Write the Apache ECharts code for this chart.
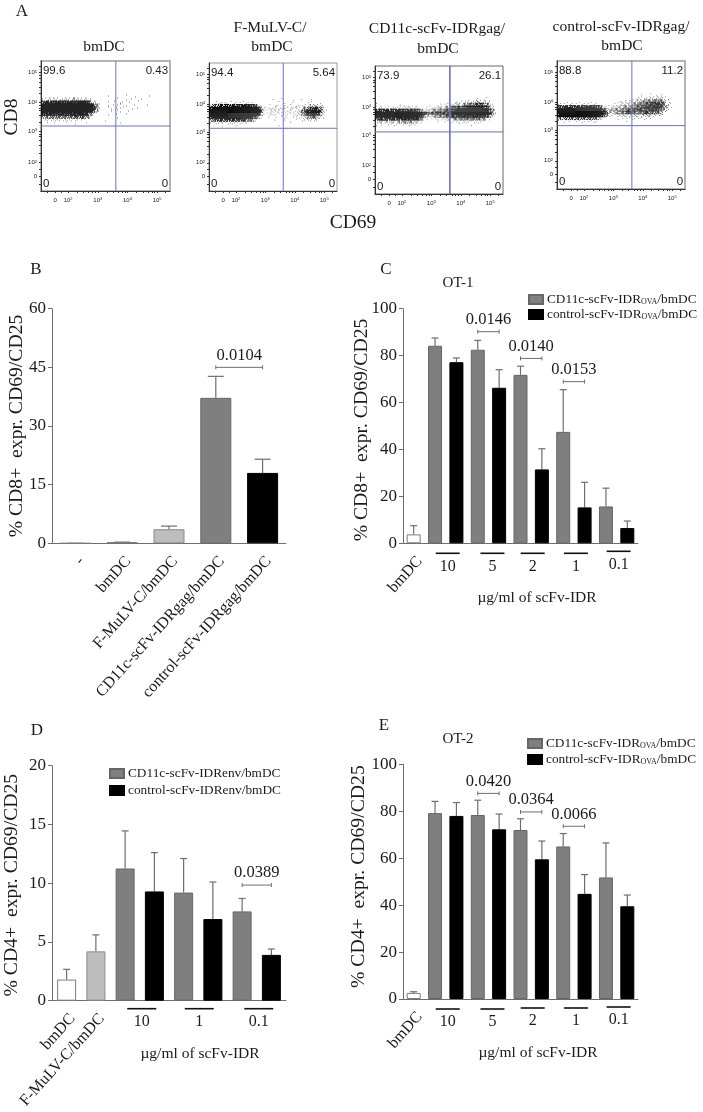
<!DOCTYPE html>
<html>
<head>
<meta charset="utf-8" />
<title>CD69/CD25 expression</title>
<script src="https://cdn.jsdelivr.net/npm/echarts@6/dist/echarts.min.js"></script>
<style>
  html, body { margin: 0; padding: 0; background: #fff; }
  #chart { width: 703px; height: 1112px; }
</style>
</head>
<body>
<div id="chart"></div>
<script>
// panel A: density, one digit (0-9) per cell, top row first
const flowBmdc = [
  '0000000000000000000000100000100100001000000',
  '1121221222332221100000000100101001000000000',
  '6778888888889997521000101011010010000000000',
  '9999999999999999974100101110100100010000000',
  '9999999999999999985200110111001010000000000',
  '9999999999999999963100010110010000000000000',
  '8888888888889987420000100100100000000000000',
  '4445455555565654200000000100000000000000000',
  '1121222121211110000001000000000000000000000',
  '0010100010010001000000000010000000000000000'
];
const flowMulv = [
  '0000000000000000000001001000100100100000000',
  '0011110111111110000000010100100001100100000',
  '4556676677788876310010110101011122332110000',
  '8999999999999999852021212212121345676420000',
  '9999999999999999962122221212123578998631000',
  '9999999999999999941122112211122468997420000',
  '8999999999999987410010101110111234563210000',
  '5566667666675542000000100100010112221000000',
  '1111211211111000000000000001000000000000000',
  '0000100001000000000000010000000000000000000'
];
const flowCd11c = [
  '0000000000000000000000000000000000100100000',
  '0000000000000000000000000001011212322110000',
  '1000000010000000000000111123334555665431000',
  '2211112122232210011123334566778999998752000',
  '7777777888888874223445566789999999999974100',
  '9999999999999999765667667899999999999985100',
  '9999999999999997532344456677888888888642000',
  '6777777778888875210112223344445555544210000',
  '3333333344444332000001011111222111211000000',
  '1010111101111100000000000000100010000000000'
];
const flowControl = [
  '0000000000000000000000000000100101010000000',
  '0000000000000000000000000001111222221000000',
  '0000000000000000000001011223344455542100000',
  '1111111111111100000112223345556777763210000',
  '6677777788888763112233444556788899864210000',
  '9999999999999997534445566777777888653100000',
  '9999999999999998632344566555566555421000000',
  '8999999999999986421122322232233321110000000',
  '3444555555555431000010111111111100000000000',
  '1010101111111100000000010000000000000000000'
];
const flowCells = [flowBmdc, flowMulv, flowCd11c, flowControl];
const flowRowTop = [73, 71.5, 74.7, 73.5];
const flowCorners = [
  ['99.6', '0.43', '0', '0'],
  ['94.4', '5.64', '0', '0'],
  ['73.9', '26.1', '0', '0'],
  ['88.8', '11.2', '0', '0']
];
const flowGateX = [58, 58, 58.5, 58.5];
const flowGateY = [50, 49, 48.5, 49.5];
const flowTickX = [11, 21, 44, 67, 90];
const flowTickY = [11.5, 22, 46, 68, 91];
const flowMinorX = [5, 16, 28, 33, 37, 40, 42, 51, 56, 60, 63, 65, 74, 79, 83, 86, 88, 96];
const flowMinorY = [5, 17, 29, 35, 39, 42, 44, 53, 58, 62, 64, 66, 75, 80, 84, 87, 89, 96];
const flowTickLabels = ['0', '{a|10}{b|2}', '{a|10}{b|3}', '{a|10}{b|4}', '{a|10}{b|5}'];

// panel B
const bCategories = ['-', 'bmDC', 'F-MuLV-C/bmDC', 'CD11c-scFv-IDRgag/bmDC', 'control-scFv-IDRgag/bmDC'];
const bValues = [0, 0.3, 3.6, 37.2, 18];
const bUpper = [0, 0.3, 4.4, 42.7, 21.5];
const bRoles = ['blank', 'blank', 'light', 'gray', 'black'];
const bBrackets = [[3, 4, 45, '0.0104']];

// panel C
const cCategories = ['bmDC', '10', '10', '5', '5', '2', '2', '1', '1', '0.1', '0.1'];
const cValues = [3.8, 84.2, 77.2, 82.5, 66.3, 71.8, 31.5, 47.5, 15.3, 15.7, 6.5];
const cUpper = [7.5, 87.5, 79, 86.5, 74, 75.5, 40.3, 65.5, 26, 23.5, 9.5];
const cRoles = ['blank', 'gray', 'black', 'gray', 'black', 'gray', 'black', 'gray', 'black', 'gray', 'black'];
const cBrackets = [[3, 4, 90.2, '0.0146'], [5, 6, 78.8, '0.0140'], [7, 8, 68.9, '0.0153']];
const cGroups = [[1, 2, '10', 2, 10, 23], [3, 4, '5', 4, 10, 23], [5, 6, '2', 1.5, 10, 23], [7, 8, '1', 2, 10, 23], [9, 10, '0.1', 2, 8, 21]];

// panel D
const dCategories = ['bmDC', 'F-MuLV-C/bmDC', '10', '10', '1', '1', '0.1', '0.1'];
const dValues = [1.8, 4.2, 11.25, 9.3, 9.2, 6.95, 7.6, 3.9];
const dUpper = [2.67, 5.6, 14.45, 12.6, 12.1, 10.1, 8.7, 4.4];
const dRoles = ['blank', 'light', 'gray', 'black', 'gray', 'black', 'gray', 'black'];
const dBrackets = [[6, 7, 9.84, '0.0389']];
const dGroups = [[2, 3, '10', 2, 8, 21], [4, 5, '1', 1, 8, 21], [6, 7, '0.1', 2, 8, 21]];

// panel E
const eCategories = ['bmDC', '10', '10', '5', '5', '2', '2', '1', '1', '0.1', '0.1'];
const eValues = [2.6, 79.2, 78, 78.4, 72.3, 72, 59.5, 65, 44.8, 51.8, 39.5];
const eUpper = [3.1, 84.2, 83.7, 84.7, 78.8, 76.8, 67.3, 70.5, 53, 66.5, 44.3];
const eRoles = cRoles;
const eBrackets = [[3, 4, 87.6, '0.0420'], [5, 6, 79.7, '0.0364'], [7, 8, 73.6, '0.0066']];
const eGroups = [[1, 2, '10', 2, 10, 23], [3, 4, '5', 4, 10, 23], [5, 6, '2', 1.5, 9, 22], [7, 8, '1', 2, 9, 22], [9, 10, '0.1', 2, 8, 21]];

const ovaNames = { gray: 'CD11c-scFv-IDR_OVA/bmDC', black: 'control-scFv-IDR_OVA/bmDC' };
const envNames = { gray: 'CD11c-scFv-IDRenv/bmDC', black: 'control-scFv-IDRenv/bmDC' };

const SERIF = '"Liberation Serif", "Times New Roman", serif';
const SANS = '"Liberation Sans", Arial, sans-serif';
const INK = '#1a1a1a';
const LINE = '#6e6e6e';

const roleStyles = {
  blank: { color: '#fff', borderColor: '#7a7a7a', borderWidth: 1 },
  light: { color: '#bdbdbd', borderColor: '#8a8a8a', borderWidth: 1 },
  gray: { color: '#7f7f7f', borderColor: '#666', borderWidth: 1 },
  black: { color: '#000', borderColor: '#000', borderWidth: 1 }
};

const FLOW_COLS = 43;
const FLOW_ROW = 2.3;
const flowGrids = [
  { left: 41, top: 61, width: 129, height: 130, borderColor: '#b4b4b4', borderWidth: 2 },
  { left: 209, top: 63, width: 128, height: 128, borderColor: '#999', borderWidth: 1 },
  { left: 375, top: 66, width: 128, height: 128, borderColor: '#666', borderWidth: 1 },
  { left: 557, top: 61, width: 128, height: 128, borderColor: '#b4b4b4', borderWidth: 2 }
];
// order the dots of a cell are lit in, so a digit gives that many dots
const dotOrders = [
  [4, 0, 8, 2, 6, 1, 7, 3, 5],
  [1, 6, 3, 8, 0, 5, 2, 7, 4],
  [7, 2, 5, 0, 3, 8, 4, 6, 1],
  [3, 8, 0, 6, 1, 4, 7, 2, 5]
];

const grid = [];
const xAxis = [];
const yAxis = [];
const series = [];

const renderFlowCell = (params, api) => {
  const p = api.coord([api.value(0), api.value(1)]);
  const s = api.size([100 / FLOW_COLS, FLOW_ROW]);
  const w = s[0] / 3;
  const h = s[1] / 3;
  const density = api.value(2);
  const order = dotOrders[params.dataIndex % dotOrders.length];
  const children = [];
  for (let k = 0; k < density; k++) {
    children.push({
      type: 'rect',
      shape: {
        x: p[0] - s[0] / 2 + (order[k] % 3) * w,
        y: p[1] - s[1] / 2 + Math.floor(order[k] / 3) * h,
        width: density < 4 ? w * 0.85 : w + 0.15,
        height: density < 4 ? h * 0.85 : h + 0.15
      },
      style: { fill: density < 3 ? '#5a5a5a' : density < 6 ? '#333' : '#0c0c0c' }
    });
  }
  return { type: 'group', children };
};

const addFlowPanel = (i) => {
  grid.push({ ...flowGrids[i], show: true, backgroundColor: 'transparent', outerBoundsMode: 'none' });
  const common = {
    type: 'value',
    min: 0,
    max: 100,
    splitLine: { show: false },
    axisLine: { lineStyle: { color: '#333', width: 1 } }
  };
  const labelText = {
    color: INK,
    fontFamily: SANS,
    fontSize: 6,
    rich: { a: { fontSize: 6, fontFamily: SANS, color: INK }, b: { fontSize: 4, fontFamily: SANS, color: INK, verticalAlign: 'top' } }
  };
  xAxis.push({
    ...common,
    gridIndex: grid.length - 1,
    axisTick: { length: 2, customValues: flowTickX.concat(flowMinorX), lineStyle: { color: '#333' } },
    axisLabel: { ...labelText, margin: 6, customValues: flowTickX, formatter: (v) => flowTickLabels[flowTickX.indexOf(v)] || '' }
  });
  yAxis.push({
    ...common,
    gridIndex: grid.length - 1,
    axisTick: { length: 2, customValues: flowTickY.concat(flowMinorY), lineStyle: { color: '#333' } },
    axisLabel: { ...labelText, margin: 4, customValues: flowTickY, formatter: (v) => flowTickLabels[flowTickY.indexOf(v)] || '' }
  });
  const axisIdx = { xAxisIndex: xAxis.length - 1, yAxisIndex: yAxis.length - 1 };

  const cells = [];
  flowCells[i].forEach((row, r) => {
    row.split('').forEach((digit, c) => {
      if (digit !== '0') {
        cells.push([((c + 0.5) * 100) / FLOW_COLS, flowRowTop[i] - r * FLOW_ROW, Number(digit)]);
      }
    });
  });
  series.push({ type: 'custom', ...axisIdx, data: cells, encode: { x: 0, y: 1 }, renderItem: renderFlowCell, silent: true, z: 2 });

  const gateStyle = { color: '#6a70c4', width: i === 2 ? 1.6 : 1 };
  series.push({ type: 'line', ...axisIdx, data: [[flowGateX[i], 0], [flowGateX[i], 100]], symbol: 'none', lineStyle: gateStyle, silent: true, z: 3 });
  series.push({ type: 'line', ...axisIdx, data: [[0, flowGateY[i]], [100, flowGateY[i]]], symbol: 'none', lineStyle: { ...gateStyle, width: 1 }, silent: true, z: 3 });

  // quadrant percentages, in reading order
  const corners = [[1.5, 92.5], [98.5, 92.5], [1.5, 5.5], [98.5, 5.5]];
  series.push({
    type: 'custom',
    ...axisIdx,
    data: corners,
    encode: { x: 0, y: 1 },
    silent: true,
    z: 4,
    renderItem: (params, api) => {
      const p = api.coord([api.value(0), api.value(1)]);
      return {
        type: 'text',
        x: p[0],
        y: p[1],
        style: {
          text: flowCorners[i][params.dataIndex],
          textAlign: params.dataIndex % 2 ? 'right' : 'left',
          textVerticalAlign: 'middle',
          fill: INK,
          font: '11.5px ' + SANS
        }
      };
    }
  });
};

const addBarPanel = (cfg) => {
  grid.push({ ...cfg.rect, outerBoundsMode: 'none' });
  const g = grid.length - 1;
  xAxis.push({
    type: 'category',
    gridIndex: g,
    data: cfg.categories,
    axisLine: { lineStyle: { color: LINE, width: 1 } },
    axisTick: { alignWithLabel: true, length: 4, lineStyle: { color: LINE } },
    axisLabel: {
      interval: 0,
      rotate: cfg.rotate,
      align: 'right',
      verticalAlign: 'top',
      margin: 10,
      color: INK,
      fontFamily: SERIF,
      fontSize: cfg.xFont,
      formatter: (v, idx) => (idx < cfg.namedBars ? v : '')
    }
  });
  yAxis.push({
    type: 'value',
    gridIndex: g,
    min: 0,
    max: cfg.max,
    interval: cfg.interval,
    name: cfg.yName,
    nameLocation: 'middle',
    nameGap: cfg.nameGap,
    nameMoveOverlap: false,
    nameTextStyle: { color: INK, fontFamily: SERIF, fontSize: 19.7, padding: cfg.namePadding || 0 },
    splitLine: { show: false },
    axisLine: { show: true, lineStyle: { color: LINE, width: 1 } },
    axisTick: { show: true, length: 4, lineStyle: { color: LINE } },
    axisLabel: { color: INK, fontFamily: SERIF, fontSize: 17, margin: 6 }
  });
  const axisIdx = { xAxisIndex: xAxis.length - 1, yAxisIndex: yAxis.length - 1 };

  // one series per bar colour, overlapped so every bar keeps its own slot
  ['blank', 'light', 'gray', 'black'].forEach((role) => {
    if (!cfg.roles.includes(role)) return;
    series.push({
      type: 'bar',
      ...axisIdx,
      name: (cfg.names && cfg.names[role]) || cfg.id + role,
      data: cfg.values.map((v, i) => (cfg.roles[i] === role ? v : null)),
      barWidth: cfg.barWidth,
      barGap: '-100%',
      itemStyle: roleStyles[role],
      silent: true,
      z: 3
    });
  });

  series.push({
    type: 'custom',
    ...axisIdx,
    data: cfg.values.map((v, i) => [i, v, cfg.upper[i]]),
    encode: { x: 0, y: 2 },
    silent: true,
    z: 2,
    renderItem: (params, api) => {
      const a = api.coord([api.value(0), api.value(1)]);
      const b = api.coord([api.value(0), api.value(2)]);
      const lineStyle = { stroke: LINE, lineWidth: 1.2 };
      return {
        type: 'group',
        children: [
          { type: 'line', shape: { x1: a[0], y1: a[1], x2: b[0], y2: b[1] }, style: lineStyle },
          { type: 'line', shape: { x1: b[0] - cfg.cap, y1: b[1], x2: b[0] + cfg.cap, y2: b[1] }, style: lineStyle }
        ]
      };
    }
  });

  series.push({
    type: 'custom',
    ...axisIdx,
    data: cfg.brackets.map((b) => [b[0], b[1], b[2]]),
    encode: { x: 0, y: 2 },
    silent: true,
    z: 4,
    renderItem: (params, api) => {
      const a = api.coord([api.value(0), api.value(2)]);
      const b = api.coord([api.value(1), api.value(2)]);
      const lineStyle = { stroke: LINE, lineWidth: 1 };
      return {
        type: 'group',
        children: [
          { type: 'line', shape: { x1: a[0], y1: a[1], x2: b[0], y2: b[1] }, style: lineStyle },
          { type: 'line', shape: { x1: a[0], y1: a[1] - 2, x2: a[0], y2: a[1] + 2 }, style: lineStyle },
          { type: 'line', shape: { x1: b[0], y1: b[1] - 2, x2: b[0], y2: b[1] + 2 }, style: lineStyle },
          {
            type: 'text',
            x: (a[0] + b[0]) / 2,
            y: a[1] - 12,
            style: { text: cfg.brackets[params.dataIndex][3], textAlign: 'center', textVerticalAlign: 'middle', fill: INK, font: '16.5px ' + SERIF }
          }
        ]
      };
    }
  });

  // dose bars and dose labels under each pair
  if (cfg.groups) {
    series.push({
      type: 'custom',
      ...axisIdx,
      data: cfg.groups.map((b) => [b[0], b[1]]),
      encode: { x: 0 },
      silent: true,
      z: 4,
      clip: false,
      renderItem: (params, api) => {
        const group = cfg.groups[params.dataIndex];
        const a = api.coord([api.value(0), 0]);
        const b = api.coord([api.value(1), 0]);
        const mid = (a[0] + b[0]) / 2 + group[3];
        return {
          type: 'group',
          children: [
            {
              type: 'line',
              shape: { x1: mid - cfg.doseHalf, y1: a[1] + group[4], x2: mid + cfg.doseHalf, y2: a[1] + group[4] },
              style: { stroke: '#111', lineWidth: 1.6 }
            },
            {
              type: 'text',
              x: mid,
              y: a[1] + group[5],
              style: { text: group[2], textAlign: 'center', textVerticalAlign: 'middle', fill: INK, font: '16px ' + SERIF }
            }
          ]
        };
      }
    });
  }
};

flowCells.forEach((_, i) => addFlowPanel(i));

addBarPanel({
  id: 'b', rect: { left: 52, top: 308.7, width: 234, height: 234.6 },
  categories: bCategories, values: bValues, upper: bUpper, roles: bRoles, brackets: bBrackets,
  max: 60, interval: 15, yName: '% CD8+  expr. CD69/CD25', nameGap: 25,
  barWidth: 31, cap: 8, rotate: 48, xFont: 16, namedBars: 5
});
addBarPanel({
  id: 'c', rect: { left: 403, top: 308.7, width: 235, height: 234.6 },
  categories: cCategories, values: cValues, upper: cUpper, roles: cRoles, brackets: cBrackets, groups: cGroups,
  names: ovaNames, max: 100, interval: 20, yName: '% CD8+  expr. CD69/CD25', nameGap: 31, namePadding: [0, 8, 0, 0],
  barWidth: 14, cap: 3.5, rotate: 48, xFont: 16, namedBars: 1, doseHalf: 12
});
addBarPanel({
  id: 'd', rect: { left: 52, top: 765.7, width: 234, height: 235 },
  categories: dCategories, values: dValues, upper: dUpper, roles: dRoles, brackets: dBrackets, groups: dGroups,
  names: envNames, max: 20, interval: 5, yName: '% CD4+  expr. CD69/CD25', nameGap: 30, namePadding: [0, 4, 0, 0],
  barWidth: 19, cap: 3.5, rotate: 48, xFont: 16, namedBars: 2, doseHalf: 14.5
});
addBarPanel({
  id: 'e', rect: { left: 403, top: 764.3, width: 235, height: 234.7 },
  categories: eCategories, values: eValues, upper: eUpper, roles: eRoles, brackets: eBrackets, groups: eGroups,
  names: ovaNames, max: 100, interval: 20, yName: '% CD4+  expr. CD69/CD25', nameGap: 34, namePadding: [0, 0, 0, 10],
  barWidth: 14, cap: 3.5, rotate: 48, xFont: 16, namedBars: 1, doseHalf: 12
});

const legendBase = {
  orient: 'vertical',
  selectedMode: false,
  icon: 'rect',
  itemWidth: 14,
  itemHeight: 9,
  itemGap: 2,
  padding: 0,
  formatter: (name) => {
    const parts = name.split('_OVA');
    return parts.length > 1 ? '{a|' + parts[0] + '}{s|OVA}{a|' + parts[1] + '}' : '{a|' + name + '}';
  },
  textStyle: {
    padding: [0, 0, 0, -1],
    rich: {
      a: { fontFamily: SERIF, fontSize: 13.3, color: INK },
      s: { fontFamily: SERIF, fontSize: 8, color: INK, verticalAlign: 'bottom', padding: [5, 0, 0, 0] }
    }
  }
};

const textNode = (text, x, y, size, extra) => ({
  type: 'text',
  x,
  y,
  rotation: extra && extra.rotation,
  style: { text, textAlign: 'center', textVerticalAlign: 'middle', fill: INK, font: size + 'px ' + SERIF }
});

const option = {
  animation: false,
  backgroundColor: '#fff',
  grid,
  xAxis,
  yAxis,
  series,
  legend: [
    { ...legendBase, left: 528, top: 293, data: [ovaNames.gray, ovaNames.black] },
    { ...legendBase, left: 109, top: 767, itemGap: 4, data: [envNames.gray, envNames.black] },
    { ...legendBase, left: 527, top: 737, itemGap: 3, data: [ovaNames.gray, ovaNames.black] }
  ],
  graphic: [
    textNode('A', 22, 12, 17),
    textNode('bmDC', 104, 47, 15.5),
    textNode('F-MuLV-C/', 270, 28, 15.5),
    textNode('bmDC', 272, 47, 15.5),
    textNode('CD11c-scFv-IDRgag/', 437, 29, 15.5),
    textNode('bmDC', 438, 49, 15.5),
    textNode('control-scFv-IDRgag/', 621, 27, 15.5),
    textNode('bmDC', 622, 46, 15.5),
    textNode('CD8', 12, 117, 19.5, { rotation: Math.PI / 2 }),
    textNode('CD69', 353, 223, 19.5),
    textNode('B', 36, 270, 17),
    textNode('C', 386, 270, 17),
    textNode('OT-1', 458, 283, 15),
    textNode('µg/ml of scFv-IDR', 537, 598, 15.5),
    textNode('D', 37, 731, 17),
    textNode('µg/ml of scFv-IDR', 200, 1054, 15.5),
    textNode('E', 384, 726, 17),
    textNode('OT-2', 458, 739, 15),
    textNode('µg/ml of scFv-IDR', 538, 1053, 15.5)
  ]
};

const myChart = echarts.init(document.getElementById('chart'));
myChart.setOption(option);
</script>
</body>
</html>
